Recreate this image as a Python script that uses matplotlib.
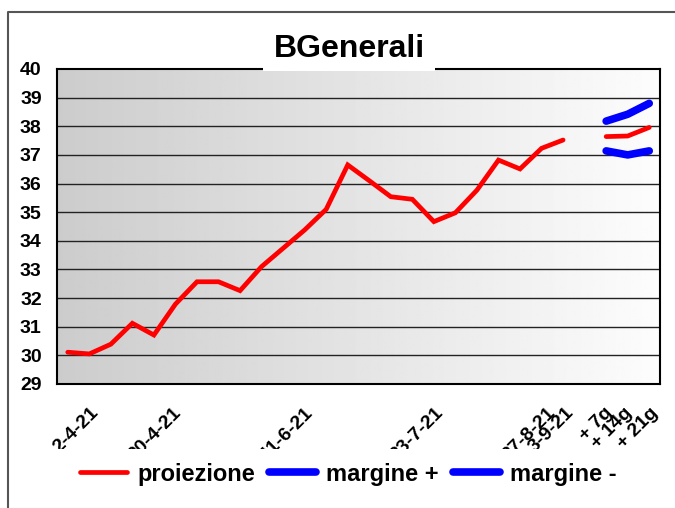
import numpy as np
import matplotlib
matplotlib.use('Agg')
import matplotlib.pyplot as plt
from matplotlib.lines import Line2D
from matplotlib.patches import Rectangle

plt.rcParams['font.family'] = ['Liberation Sans', 'DejaVu Sans']
plt.rcParams['font.weight'] = 'bold'

# dati (chiusure settimanali + proiezione a 7/14/21 giorni)
storico = [30.11, 30.05, 30.39, 31.12, 30.71, 31.79, 32.57, 32.57, 32.26, 33.10,
           33.74, 34.38, 35.10, 36.65, 36.10, 35.54, 35.45, 34.67, 34.98, 35.77,
           36.82, 36.51, 37.23, 37.52]
proiezione = [37.64, 37.66, 37.96]
margine_piu = [38.18, 38.42, 38.80]
margine_meno = [37.14, 37.00, 37.14]

etichette = ['2-4-21', '20-4-21', '11-6-21', '23-7-21', '27-8-21', '3-9-21',
             '+ 7g', '+ 14g', '+ 21g']
pos_etichette = [1.3, 5.15, 11.28, 17.32, 22.52, 23.35, 25.17, 26.1, 27.3]

nan = np.nan
vuoto = [nan] * (len(storico) + 1)
serie_rossa = np.array(storico + [nan] + proiezione)
serie_piu = np.array(vuoto + margine_piu)
serie_meno = np.array(vuoto + margine_meno)
x = np.arange(len(serie_rossa))

W, H = 675, 508
fig = plt.figure(figsize=(W / 100, H / 100), dpi=100)
fig.patch.set_facecolor('white')
ax = fig.add_axes([57 / W, 1 - 384 / H, (660 - 57) / W, (384 - 69) / H])

# sfondo sfumato
grad = np.linspace(0.80, 0.99, 256)[None, :]
ax.imshow(grad, cmap='gray', vmin=0, vmax=1, aspect='auto',
          extent=[-0.5, len(x) - 0.5, 29, 40], zorder=0)

for v in range(30, 40):
    ax.axhline(v, color='#222222', lw=1, zorder=1)

ax.plot(x, serie_rossa, color='#ff0000', lw=3.4, label='proiezione',
        solid_capstyle='round', solid_joinstyle='miter', zorder=3)
ax.plot(x, serie_piu, color='#0000ff', lw=5.5, label='margine +',
        solid_capstyle='round', zorder=3)
ax.plot(x, serie_meno, color='#0000ff', lw=5.5, label='margine -',
        solid_capstyle='round', zorder=3)

ax.set_xlim(-0.5, len(x) - 0.5)
ax.set_ylim(29, 40)
ax.set_yticks(range(29, 41))
ax.tick_params(axis='y', length=0, pad=11, labelsize=14)
ax.set_xticks(pos_etichette)
ax.set_xticklabels(etichette, rotation=45, ha='right', va='center',
                   rotation_mode='anchor', fontsize=14)
ax.tick_params(axis='x', length=0, pad=19)
for s in ax.spines.values():
    s.set_linewidth(1.5)
    s.set_color('black')

# cornice del grafico
fig.add_artist(Line2D([8 / W, 8 / W, 1], [0, 1 - 12 / H, 1 - 12 / H],
                      transform=fig.transFigure, color='#555555', lw=1.5))

# riquadro bianco del titolo
fig.add_artist(Rectangle((263 / W, 1 - 70.5 / H), 172 / W, 50 / H,
                         transform=fig.transFigure, facecolor='white',
                         edgecolor='none', zorder=5))
fig.text(349.5 / W, 1 - 57 / H, 'BGenerali', fontsize=23, fontweight='bold',
         ha='center', va='baseline', zorder=6)

# le etichette dell'asse x risultano tagliate in basso
fig.add_artist(Rectangle((12 / W, 1 - 462 / H), 655 / W, 13 / H,
                         transform=fig.transFigure, facecolor='white',
                         edgecolor='none', zorder=5))

leg = fig.legend(loc='center', bbox_to_anchor=(348.5 / W, 1 - 474 / H), ncol=3,
                 frameon=False, fontsize=17, handlelength=2.0,
                 handletextpad=0.42, columnspacing=0.6)
leg.set_zorder(10)

fig.savefig('out.png', dpi=100)
